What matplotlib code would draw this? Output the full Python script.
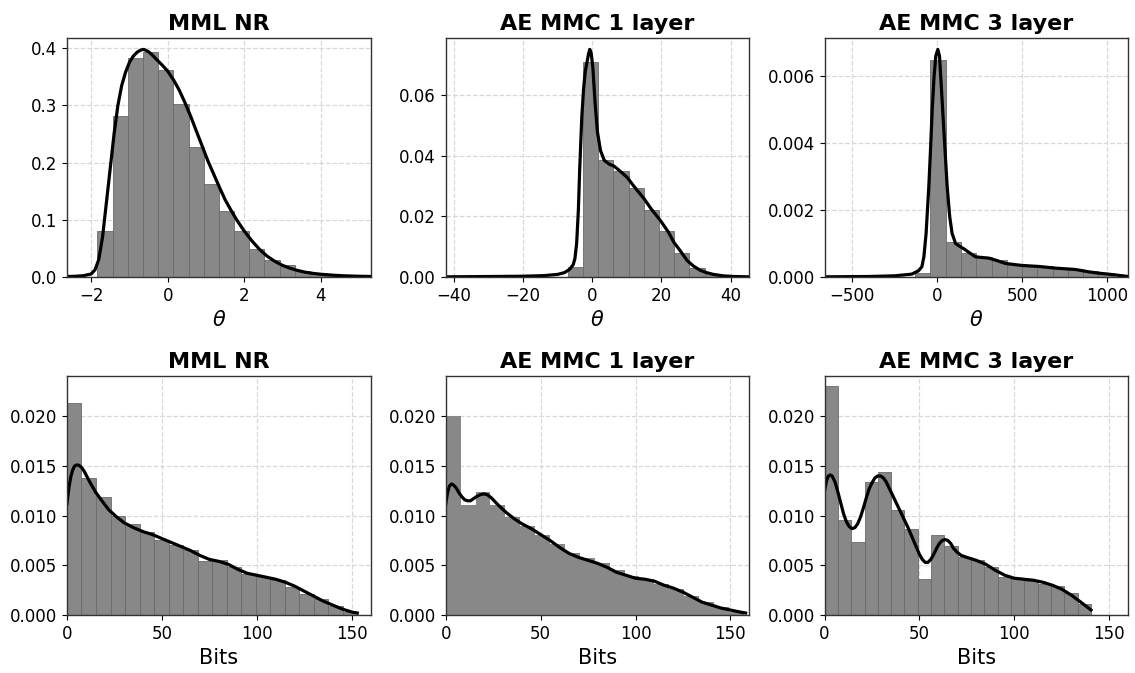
#!/usr/bin/env python3
"""Ability (theta) and bits distributions: MML NR vs AE MMC 1/3 layer.
Histogram heights + KDE curves read off the reference figure.
"""
import numpy as np
import matplotlib
matplotlib.use("Agg")
import matplotlib.pyplot as plt

plt.rcParams.update({"font.family": "DejaVu Sans", "font.size": 12,
                     "axes.edgecolor": "0.2", "axes.linewidth": 1.0})

TITLES = ["MML NR", "AE MMC 1 layer", "AE MMC 3 layer"]

# ---- theta: histogram (bin range + density heights) ----
theta_nr_range = (-1.835, 4.51)
theta_nr_hist = [0.081, 0.281, 0.383, 0.393, 0.362, 0.302, 0.227, 0.163,
                 0.116, 0.081, 0.048, 0.029, 0.020, 0.010, 0.005, 0.002]
theta_ae1_range = (-7.02, 36.83)
theta_ae1_hist = [0.0034, 0.0711, 0.0387, 0.0351, 0.0295, 0.0222, 0.0151,
                  0.0078, 0.0029, 0.0008]
theta_ae3_range = (-129, 1039)
theta_ae3_hist = [0.0001, 0.00647, 0.00103, 0.00072, 0.00059, 0.00051,
                  0.00039, 0.00034, 0.00031, 0.00026, 0.00023, 0.00016,
                  0.00010]

# ---- theta: KDE curves ----
kde_nr_x = [-2.63, -2.4, -2.2, -2.0, -1.9, -1.8, -1.7, -1.6, -1.5, -1.4,
            -1.3, -1.2, -1.1, -1.0, -0.9, -0.8, -0.7, -0.62, -0.5, -0.4,
            -0.3, -0.15, 0.0, 0.15, 0.3, 0.45, 0.6, 0.75, 0.9, 1.05, 1.2,
            1.35, 1.5, 1.65, 1.8, 2.0, 2.2, 2.4, 2.6, 2.8, 3.0, 3.2, 3.4,
            3.6, 3.8, 4.0, 4.3, 4.6, 5.0, 5.3]
kde_nr_y = [0.0005, 0.001, 0.002, 0.005, 0.012, 0.03, 0.07, 0.13, 0.19,
            0.25, 0.30, 0.335, 0.358, 0.375, 0.386, 0.393, 0.397, 0.398,
            0.394, 0.388, 0.381, 0.371, 0.360, 0.345, 0.327, 0.305, 0.281,
            0.255, 0.229, 0.203, 0.180, 0.157, 0.135, 0.117, 0.100, 0.080,
            0.063, 0.048, 0.036, 0.027, 0.020, 0.015, 0.011, 0.008, 0.006,
            0.0045, 0.003, 0.0018, 0.001, 0.0006]
kde_ae1_x = [-42.3, -30, -20, -14, -10, -8, -6.5, -5.5, -5.0, -4.5, -4.0,
             -3.6, -3.0, -2.5, -2.0, -1.5, -1.0, -0.7, -0.3, 0.2, 0.8, 1.5,
             2.4, 3.5, 5.0, 6.3, 8.0, 10.1, 12.0, 15.0, 17.0, 19.7, 22.0,
             23.6, 25.5, 27.4, 29.3, 31.3, 33.0, 35.0, 38.0, 41.0, 45.4]
kde_ae1_y = [0.0, 0.0001, 0.0002, 0.0004, 0.0008, 0.0014, 0.0025, 0.004,
             0.006, 0.011, 0.022, 0.036, 0.053, 0.062, 0.068, 0.071, 0.074,
             0.0752, 0.074, 0.069, 0.058, 0.048, 0.0417, 0.0385, 0.0372,
             0.0366, 0.035, 0.0329, 0.030, 0.0258, 0.0225, 0.0186, 0.0148,
             0.0114, 0.0085, 0.0054, 0.0035, 0.0021, 0.0014, 0.0008, 0.0003,
             0.0001, 0.0]
kde_ae3_x = [-663, -400, -250, -150, -110, -90, -78, -65, -49, -40, -29,
             -18, -8, 4, 14, 29, 44, 59, 74, 88, 108, 130, 157, 190, 225,
             260, 304, 350, 402, 450, 500, 600, 696, 814, 892, 950, 1010,
             1060, 1125]
kde_ae3_y = [0.0, 0.00001, 0.00003, 0.00008, 0.00018, 0.0003, 0.0006,
             0.0013, 0.0027, 0.0037, 0.0050, 0.0060, 0.0066, 0.0068, 0.0066,
             0.0053, 0.0040, 0.0027, 0.0018, 0.0013, 0.0010, 0.00092,
             0.00084, 0.00072, 0.00060, 0.00058, 0.00056, 0.00049, 0.00040,
             0.00037, 0.00034, 0.00031, 0.00026, 0.00022, 0.00015, 0.00011,
             0.00008, 0.00005, 0.00001]

# ---- bits: histogram ----
bits_nr_range = (0, 153)
bits_nr_hist = [0.0213, 0.0138, 0.0119, 0.0100, 0.0092, 0.0084, 0.0076,
                0.0070, 0.0065, 0.0054, 0.0055, 0.0048, 0.0041, 0.0038,
                0.0035, 0.0028, 0.0021, 0.0016, 0.0009, 0.0003]
bits_ae1_range = (0, 157)
bits_ae1_hist = [0.0200, 0.0111, 0.0124, 0.0111, 0.0099, 0.0090, 0.0081,
                 0.0071, 0.0062, 0.0057, 0.0052, 0.0045, 0.0039, 0.0036,
                 0.0031, 0.0026, 0.0019, 0.0013, 0.0008, 0.0003]
bits_ae3_range = (0, 140.4)
bits_ae3_hist = [0.0231, 0.0096, 0.0074, 0.0134, 0.0144, 0.0106, 0.0087,
                 0.0036, 0.0081, 0.0069, 0.0058, 0.0055, 0.0048, 0.0038,
                 0.0037, 0.0034, 0.0031, 0.0029, 0.0022, 0.0011]

# ---- bits: KDE curves ----
kde_bnr_x = [0, 1, 2, 3, 4, 5, 6, 7.5, 9, 12, 15, 18, 22, 26, 30, 35, 40,
             45, 50, 55, 60, 65, 70, 75, 80, 85, 90, 95, 100, 105, 110, 115,
             120, 125, 130, 135, 140, 145, 150, 153]
kde_bnr_y = [0.0112, 0.0128, 0.0139, 0.0146, 0.0150, 0.0151, 0.0151,
             0.0149, 0.0145, 0.0134, 0.0124, 0.0116, 0.0106, 0.0099,
             0.0093, 0.0088, 0.0084, 0.0081, 0.0077, 0.0073, 0.0069,
             0.0065, 0.0060, 0.0056, 0.0054, 0.0051, 0.0046, 0.0042,
             0.0040, 0.0038, 0.0036, 0.0033, 0.0029, 0.0024, 0.0019,
             0.0014, 0.0010, 0.0006, 0.0003, 0.0002]
kde_bae1_x = [0, 1, 2, 3, 4, 5.5, 7, 8.5, 10, 11.5, 13, 14.5, 16, 18, 20,
              22, 24, 26, 28, 32, 36, 40, 45, 50, 55, 60, 65, 70, 75, 80, 85,
              90, 95, 100, 105, 110, 115, 120, 125, 130, 135, 140, 145, 150,
              155, 158]
kde_bae1_y = [0.0112, 0.0124, 0.0130, 0.0132, 0.0131, 0.0128, 0.0123,
              0.0119, 0.0116, 0.0115, 0.0115, 0.0117, 0.0119, 0.0121,
              0.0122, 0.0121, 0.0118, 0.0114, 0.0110, 0.0103, 0.0097,
              0.0092, 0.0087, 0.0081, 0.0075, 0.0068, 0.0062, 0.0058,
              0.0055, 0.0052, 0.0048, 0.0043, 0.0040, 0.0037, 0.0036,
              0.0034, 0.0030, 0.0027, 0.0023, 0.0018, 0.0013, 0.0010,
              0.0007, 0.0005, 0.0003, 0.0002]
kde_bae3_x = [0, 1, 2, 3, 4, 5.5, 7, 8.5, 10, 11.5, 13, 14.5, 16, 17.5,
              19, 20.5, 22, 23.5, 25, 26.5, 28, 29.5, 31, 32.5, 34, 36, 38,
              40, 42, 44, 46, 48, 50, 51.5, 53, 54.5, 56, 57.5, 59, 60.5, 62,
              63.5, 65, 66.5, 68, 70, 72, 75, 80, 85, 90, 95, 100, 105, 110,
              115, 120, 125, 130, 135, 140.4]
kde_bae3_y = [0.0125, 0.0135, 0.0140, 0.0141, 0.0140, 0.0134, 0.0124,
              0.0113, 0.0102, 0.0094, 0.0089, 0.0087, 0.0088, 0.0092,
              0.0099, 0.0108, 0.0118, 0.0127, 0.0133, 0.0138, 0.0140,
              0.0140, 0.0138, 0.0134, 0.0128, 0.0120, 0.0112, 0.0104,
              0.0096, 0.0088, 0.0079, 0.0070, 0.0061, 0.0056, 0.0053,
              0.0053, 0.0056, 0.0061, 0.0067, 0.0072, 0.0075, 0.0076,
              0.0075, 0.0072, 0.0067, 0.0063, 0.0060, 0.0058, 0.0055,
              0.0051, 0.0045, 0.0040, 0.0037, 0.0036, 0.0035, 0.0033,
              0.0030, 0.0026, 0.0020, 0.0013, 0.0005]


def draw(ax, rng, heights, kx, ky, xlim, xlabel, title, edges=True):
    bins = np.linspace(rng[0], rng[1], len(heights) + 1)
    ax.set_axisbelow(True)
    ax.bar(bins[:-1], heights, width=np.diff(bins), align="edge",
           color="#888888", edgecolor="#6a6a6a" if edges else "none",
           linewidth=0.6)
    ax.plot(kx, ky, color="k", lw=2.3)
    ax.set_xlim(*xlim)
    ax.grid(True, ls="--", color="#d8d8d8", lw=0.9)
    ax.set_title(title, fontsize=16, fontweight="bold")
    ax.set_xlabel(xlabel, fontsize=15)
    ax.tick_params(labelsize=12)


fig = plt.figure(figsize=(11.35, 6.73), dpi=100)
gs = fig.add_gridspec(2, 3, left=0.059, right=0.994, top=0.9435,
                      bottom=0.0862, wspace=0.2475, hspace=0.416)
top = [fig.add_subplot(gs[0, i]) for i in range(3)]
bot0 = fig.add_subplot(gs[1, 0])
bot = [bot0] + [fig.add_subplot(gs[1, i], sharey=bot0) for i in (1, 2)]

draw(top[0], theta_nr_range, theta_nr_hist, kde_nr_x, kde_nr_y,
     (-2.63, 5.3), r"$\theta$", TITLES[0])
draw(top[1], theta_ae1_range, theta_ae1_hist, kde_ae1_x, kde_ae1_y,
     (-42.3, 45.4), r"$\theta$", TITLES[1])
draw(top[2], theta_ae3_range, theta_ae3_hist, kde_ae3_x, kde_ae3_y,
     (-663, 1125), r"$\theta$", TITLES[2])
top[0].set_xticks([-2, 0, 2, 4])
top[1].set_xticks([-40, -20, 0, 20, 40])
top[2].set_xticks([-500, 0, 500, 1000])

draw(bot[0], bits_nr_range, bits_nr_hist, kde_bnr_x, kde_bnr_y,
     (0, 160), "Bits", TITLES[0])
draw(bot[1], bits_ae1_range, bits_ae1_hist, kde_bae1_x, kde_bae1_y,
     (0, 160), "Bits", TITLES[1], edges=False)
draw(bot[2], bits_ae3_range, bits_ae3_hist, kde_bae3_x, kde_bae3_y,
     (0, 160), "Bits", TITLES[2])
for a in bot:
    a.set_xticks([0, 50, 100, 150])
    a.tick_params(labelleft=True)
bot0.set_ylim(0, 0.02405)

fig.savefig("out.png", dpi=100)
